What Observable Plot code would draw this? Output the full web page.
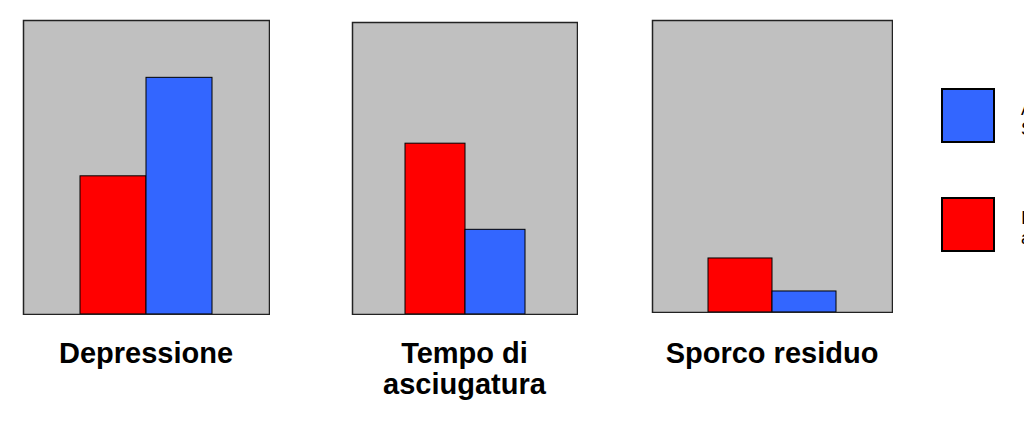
<!DOCTYPE html>
<html>
<head>
<meta charset="utf-8">
<script src="https://cdn.jsdelivr.net/npm/d3@7"></script>
<script src="https://cdn.jsdelivr.net/npm/@observablehq/plot@0.6"></script>
<style>
  html, body { margin: 0; padding: 0; background: #fff; overflow: hidden; }
  #chart { position: relative; width: 1024px; height: 440px; font-family: "Liberation Sans", Arial, sans-serif; }
  .panel { position: absolute; }
  .cat { position: absolute; text-align: center; font-weight: bold; font-size: 29px; line-height: 31px; color: #000; }
  .swatch { position: absolute; width: 50px; height: 51px; border: 2px solid #000; }
  .leg { position: absolute; font-size: 18px; line-height: 20px; color: #000; width: 120px; }
</style>
</head>
<body>
<div id="chart"></div>
<script>
// Categories and series
const categories = ["Depressione", "Tempo di asciugatura", "Sporco residuo"];
const series = ["Iniezione aspirazione", "Aspirazione Standard"];
const seriesColors = ["#ff0000", "#3366ff"];
// Relative values (0–100 scale) per category
const redValues = [47, 58.5, 18.5];
const blueValues = [80.5, 29, 7.2];

// Panel boxes: left, top, width, height of each plot frame
const panels = [
  {x: 23, y: 20, w: 246, h: 294},
  {x: 352, y: 22, w: 225, h: 292},
  {x: 652, y: 20, w: 240, h: 292}
];

const chart = document.getElementById("chart");

categories.forEach((cat, i) => {
  const data = [
    {series: series[0], value: redValues[i]},
    {series: series[1], value: blueValues[i]}
  ];
  const p = panels[i];
  const svg = Plot.plot({
    width: p.w + 2,
    height: p.h + 2,
    marginTop: 1, marginBottom: 1, marginLeft: 1, marginRight: 1,
    x: {domain: series, paddingInner: 0, paddingOuter: 0.85, axis: null},
    y: {domain: [0, 100], axis: null},
    color: {domain: series, range: seriesColors},
    marks: [
      Plot.frame({fill: "#c0c0c0", stroke: null}),
      Plot.barY(data, {x: "series", y: "value", fill: "series", stroke: "#000", strokeWidth: 1}),
      Plot.frame({stroke: "#222", strokeWidth: 1.5})
    ]
  });
  svg.classList.add("panel");
  svg.style.left = (p.x - 1) + "px";
  svg.style.top = (p.y - 1) + "px";
  chart.appendChild(svg);

  const label = document.createElement("div");
  label.className = "cat";
  label.textContent = cat;
  label.style.left = p.x + "px";
  label.style.width = p.w + "px";
  label.style.top = "338px";
  chart.appendChild(label);
});

// Legend: blue series on top, red below
const legendRows = [
  {name: series[1], color: seriesColors[1], top: 88},
  {name: series[0], color: seriesColors[0], top: 197}
];
legendRows.forEach(r => {
  const sw = document.createElement("div");
  sw.className = "swatch";
  sw.style.left = "941px";
  sw.style.top = r.top + "px";
  sw.style.background = r.color;
  chart.appendChild(sw);
  const t = document.createElement("div");
  t.className = "leg";
  t.textContent = r.name;
  t.style.left = "1021px";
  t.style.top = (r.top + 11) + "px";
  chart.appendChild(t);
});
</script>
</body>
</html>
